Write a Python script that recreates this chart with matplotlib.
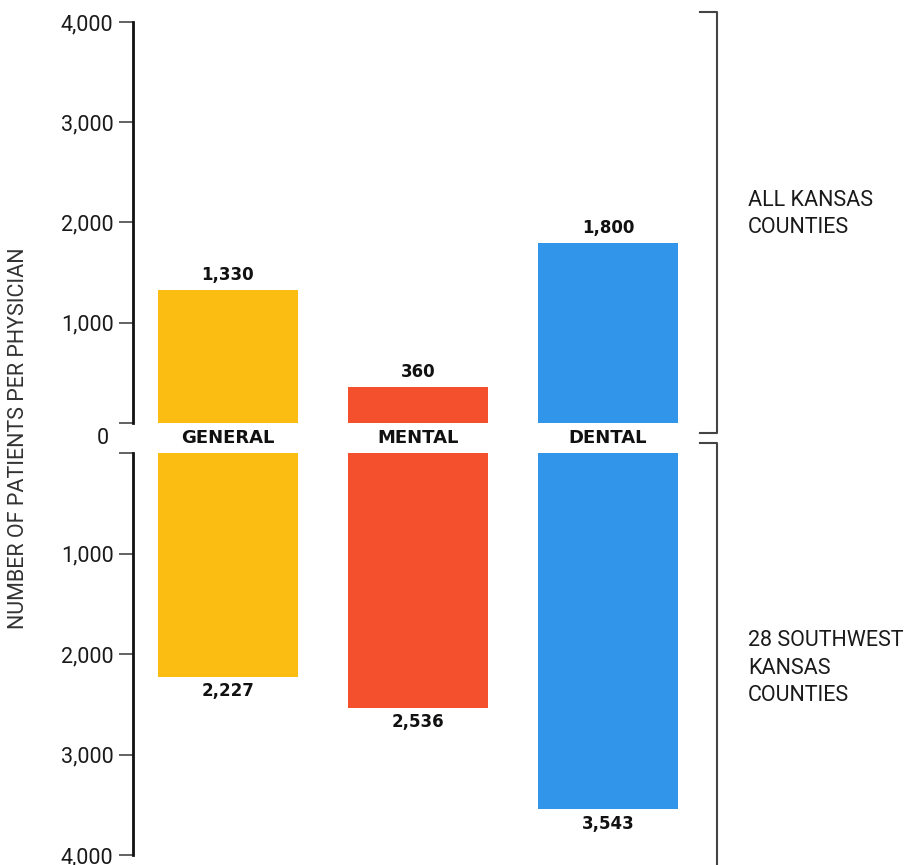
import matplotlib
matplotlib.use("Agg")
import matplotlib.pyplot as plt
from matplotlib.lines import Line2D

# Patients per physician, by type of care
categories = ["GENERAL", "MENTAL", "DENTAL"]
all_kansas = [1330, 360, 1800]
southwest_kansas = [2227, 2536, 3543]
bar_colors = ["#FCBD12", "#F5502D", "#3196EA"]
y_ticks = [0, 1000, 2000, 3000, 4000]
y_tick_labels = ["", "1,000", "2,000", "3,000", "4,000"]

plt.rcParams["font.family"] = ["Roboto", "DejaVu Sans"]
BOLD = ["DejaVu Sans"]
TEXT = "#1a1a1a"

W, H = 909, 865
fig = plt.figure(figsize=(W / 100, H / 100), dpi=100)


def fx(px):
    return px / W


def fy(py):
    return 1 - py / H


left_px, right_px = 133, 717
ax_top = fig.add_axes([fx(left_px), fy(423), fx(right_px - left_px), (423 - 22) / H])
ax_bot = fig.add_axes([fx(left_px), fy(855), fx(right_px - left_px), (855 - 453) / H])

x = list(range(len(categories)))
bar_w = 140 / 190

for ax, vals, top in ((ax_top, all_kansas, True), (ax_bot, southwest_kansas, False)):
    ax.bar(x, vals, width=bar_w, color=bar_colors, zorder=2)
    ax.set_xlim(-0.5, 2.574)
    if top:
        ax.set_ylim(0, 4000)
    else:
        ax.set_ylim(4000, 0)
    ax.set_yticks(y_ticks)
    ax.set_yticklabels(y_tick_labels)
    ax.set_xticks([])
    for s in ("top", "right", "bottom"):
        ax.spines[s].set_visible(False)
    ax.spines["left"].set_linewidth(2.0)
    ax.spines["left"].set_color("#111111")
    ax.tick_params(axis="y", direction="out", length=10, width=1.3, color="#555555",
                   labelsize=15.5, labelcolor=TEXT, pad=4)
    ax.patch.set_alpha(0)
    for xi, v in zip(x, vals):
        if top:
            ax.annotate(f"{v:,}", (xi, v), xytext=(0, 4), textcoords="offset points",
                        ha="center", va="bottom", fontsize=12, fontweight="heavy",
                        color="#111111", family=BOLD)
        else:
            ax.annotate(f"{v:,}", (xi, v), xytext=(0, -4), textcoords="offset points",
                        ha="center", va="top", fontsize=12, fontweight="heavy",
                        color="#111111", family=BOLD)

# Category labels in the gap between the two panels
for xi, name in zip(x, categories):
    xd = ax_top.transData.transform((xi, 0))[0]
    fig.text(xd / fig.dpi / fig.get_figwidth(), fy(438), name, ha="center", va="center",
             fontsize=13, fontweight="heavy", color="#111111", family=BOLD)

# Shared zero label
fig.text(fx(109), fy(438), "0", ha="right", va="center", fontsize=15.5, color=TEXT)

# Axis title
fig.text(fx(19), fy(438), "NUMBER OF PATIENTS PER PHYSICIAN", rotation=90,
         ha="center", va="center", fontsize=15.5, color="#333333")

# Brackets grouping each panel
bk = dict(color="#444444", linewidth=1.5)
fig.add_artist(Line2D([fx(700), fx(717), fx(717), fx(700)],
                      [fy(12), fy(12), fy(433), fy(433)], **bk))
fig.add_artist(Line2D([fx(700), fx(717), fx(717)],
                      [fy(443), fy(443), fy(870)], **bk))

fig.text(fx(748), fy(214), "ALL KANSAS\nCOUNTIES", ha="left", va="center",
         fontsize=15.5, color=TEXT, linespacing=1.4)
fig.text(fx(748), fy(668), "28 SOUTHWEST\nKANSAS\nCOUNTIES", ha="left", va="center",
         fontsize=15.5, color=TEXT, linespacing=1.4)

fig.savefig("out.png", dpi=100, facecolor="white")
